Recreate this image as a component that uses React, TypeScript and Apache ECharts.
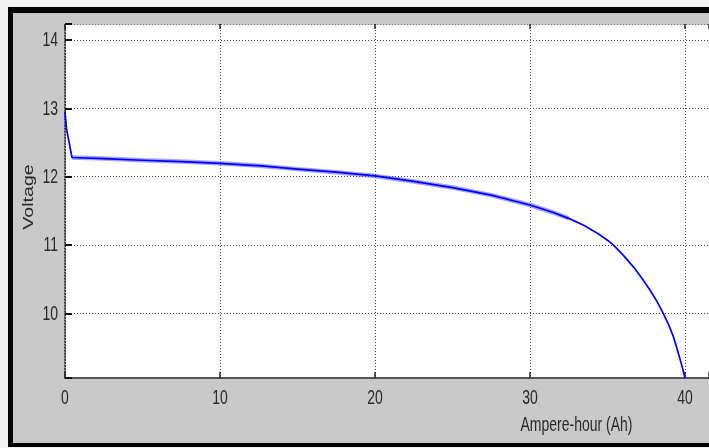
import React, { useEffect, useRef } from "react";
import * as echarts from "echarts";

const ampHours = [0, 0.1, 0.45, 2.5, 5, 7.5, 10, 12.5, 15, 17.5, 20, 22.5, 25, 27.5, 30, 31.5, 32.5, 33.5, 34.4, 35, 35.37, 36, 36.67, 37.2, 37.74, 38.2, 38.6, 38.95, 39.25, 39.5, 39.68, 39.85, 40];
const voltage = [12.95, 12.7, 12.28, 12.265, 12.24, 12.22, 12.195, 12.16, 12.11, 12.065, 12.01, 11.93, 11.84, 11.73, 11.585, 11.475, 11.389, 11.285, 11.165, 11.07, 11.0, 10.855, 10.68, 10.52, 10.34, 10.17, 10.0, 9.83, 9.66, 9.47, 9.33, 9.19, 9.053];
const xTicks = [0, 10, 20, 30, 40];
const yTicks = [10, 11, 12, 13, 14];
const xName = "Ampere-hour (Ah)";
const yName = "Voltage";

const FONT = "'Liberation Sans', Arial, sans-serif";
const TEXT_COLOR = "#2a2a2a";

export default function App() {
  const ref = useRef<HTMLDivElement>(null);
  useEffect(() => {
    if (!ref.current) return;
    const chart = echarts.init(ref.current, undefined, { renderer: "svg" });
    const points = ampHours.map((a, i) => [a, voltage[i]]);
    const bandPoints = points.filter((p) => p[0] >= 0.45 && p[0] <= 33);
    const dotted = [1, 2];
    const frame = [
      { id: "bg0", type: "rect", z: -100, silent: true, shape: { x: 0, y: 0, width: 709, height: 448 }, style: { fill: "#f2f2f2" } },
      { id: "bg1", type: "rect", z: -99, silent: true, shape: { x: 8, y: 7, width: 701, height: 440 }, style: { fill: "#000000" } },
      { id: "bg2", type: "rect", z: -98, silent: true, shape: { x: 13, y: 13, width: 696, height: 430 }, style: { fill: "#c9c9c9" } },
    ];
    chart.setOption({
      animation: false,
      backgroundColor: "transparent",
      graphic: frame,
      grid: { left: 65, top: 24, right: 0, bottom: 70, show: true, backgroundColor: "#ffffff", borderWidth: 0 },
      xAxis: [
        {
          type: "value",
          min: 0,
          max: 41.55,
          interval: 10,
          position: "bottom",
          axisLine: { show: true, onZero: false, lineStyle: { color: "#555555", width: 2 } },
          axisTick: { show: true, inside: true, length: 6, lineStyle: { color: "#222222", width: 1.5 } },
          axisLabel: { show: false },
          splitLine: { show: true, lineStyle: { color: "#444444", width: 1, type: dotted } },
        },
        {
          type: "value",
          min: 0,
          max: 41.55,
          interval: 10,
          position: "top",
          axisLine: { show: true, onZero: false, lineStyle: { color: "#777777", width: 1, type: dotted } },
          axisTick: { show: true, inside: true, length: 5, lineStyle: { color: "#222222", width: 1.5 } },
          axisLabel: { show: false },
          splitLine: { show: false },
        },
      ],
      yAxis: {
        type: "value",
        min: 9.053,
        max: 14.234,
        splitNumber: 5,
        axisLine: { show: true, onZero: false, lineStyle: { color: "#111111", width: 1.5, type: dotted } },
        axisTick: { show: true, inside: true, length: 7, lineStyle: { color: "#111111", width: 2 } },
        axisLabel: { show: false },
        splitLine: { show: true, lineStyle: { color: "#444444", width: 1, type: dotted } },
      },
      series: [
        {
          type: "line",
          data: bandPoints,
          showSymbol: false,
          lineStyle: { color: "rgba(90,90,255,0.55)", width: 4.5 },
          silent: true,
          z: 3,
        },
        {
          type: "line",
          data: points,
          showSymbol: false,
          lineStyle: { color: "#0000ff", width: 1.7, join: "round" },
          z: 4,
        },
      ],
    });

    const labels: any[] = [];
    xTicks.forEach((v, i) => {
      const p = chart.convertToPixel({ gridIndex: 0 }, [v, 9.053]) as number[];
      labels.push({
        id: "xl" + i,
        type: "text",
        x: p[0],
        y: p[1] + 20,
        scaleY: 1.4,
        z: 10,
        style: { text: String(v), font: `14px ${FONT}`, fill: TEXT_COLOR, align: "center", verticalAlign: "middle" },
      });
    });
    yTicks.forEach((v, i) => {
      const p = chart.convertToPixel({ gridIndex: 0 }, [0, v]) as number[];
      labels.push({
        id: "yl" + i,
        type: "text",
        x: p[0] - 7,
        y: p[1],
        scaleY: 1.4,
        z: 10,
        style: { text: String(v), font: `14px ${FONT}`, fill: TEXT_COLOR, align: "right", verticalAlign: "middle" },
      });
    });
    const pxName = chart.convertToPixel({ gridIndex: 0 }, [33.0, 9.053]) as number[];
    labels.push({
      id: "xname",
      type: "text",
      x: pxName[0],
      y: pxName[1] + 47,
      scaleY: 1.4,
      z: 10,
      style: { text: xName, font: `14px ${FONT}`, fill: TEXT_COLOR, align: "center", verticalAlign: "middle" },
    });
    labels.push({
      id: "yname",
      type: "text",
      x: 28,
      y: 197,
      rotation: Math.PI / 2,
      scaleX: 1.4,
      z: 10,
      style: { text: yName, font: `14px ${FONT}`, fill: TEXT_COLOR, align: "center", verticalAlign: "middle" },
    });
    chart.setOption({ graphic: [...frame, ...labels] });
    return () => chart.dispose();
  }, []);
  return <div ref={ref} style={{ position: "fixed", left: 0, top: 0, width: 709, height: 448 }} />;
}
